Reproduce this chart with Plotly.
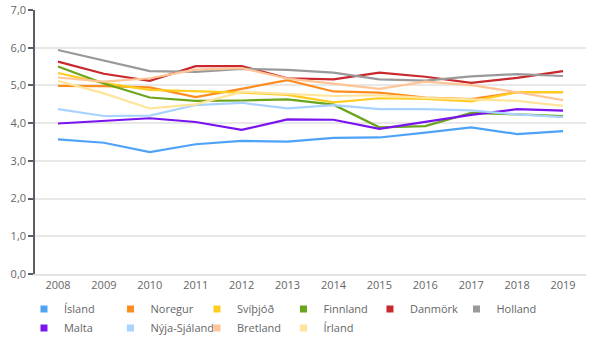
import plotly.graph_objects as go

years = ["2008", "2009", "2010", "2011", "2012", "2013", "2014", "2015", "2016", "2017", "2018", "2019"]

island = [3.57, 3.48, 3.23, 3.44, 3.53, 3.51, 3.61, 3.62, 3.75, 3.89, 3.71, 3.79]
noregur = [4.99, 4.98, 4.95, 4.69, 4.91, 5.14, 4.84, 4.81, 4.68, 4.64, 4.82, 4.82]
svithjod = [5.33, 5.06, 4.88, 4.85, 4.81, 4.75, 4.55, 4.66, 4.64, 4.58, 4.82, 4.82]
finnland = [5.50, 5.05, 4.68, 4.59, 4.60, 4.63, 4.49, 3.89, 3.92, 4.27, 4.23, 4.19]
danmork = [5.63, 5.31, 5.12, 5.51, 5.51, 5.19, 5.16, 5.34, 5.23, 5.07, 5.20, 5.38]
holland = [5.94, 5.66, 5.38, 5.36, 5.44, 5.41, 5.34, 5.16, 5.13, 5.24, 5.30, 5.25]
malta = [3.99, 4.06, 4.13, 4.03, 3.82, 4.10, 4.09, 3.85, 4.03, 4.22, 4.37, 4.33]
nyja_sjaland = [4.37, 4.19, 4.20, 4.48, 4.54, 4.39, 4.48, 4.37, 4.37, 4.34, 4.23, 4.16]
bretland = [5.21, 5.10, 5.19, 5.42, 5.46, 5.18, 5.05, 4.91, 5.10, 5.01, 4.82, 4.61]
irland = [5.12, 4.79, 4.39, 4.50, 4.83, 4.77, 4.72, 4.74, 4.67, 4.63, 4.59, 4.46]

names = ["Ísland", "Noregur", "Svíþjóð", "Finnland", "Danmörk", "Holland",
         "Malta", "Nýja-Sjáland", "Bretland", "Írland"]
series = [island, noregur, svithjod, finnland, danmork, holland,
          malta, nyja_sjaland, bretland, irland]
colors = ["#4FA3F7", "#FF8C1F", "#FFCC1F", "#6AA51C", "#C9282D", "#999999",
          "#7A14EE", "#A9D3FF", "#FFC596", "#FFE49A"]

fig = go.Figure()
for name, vals, col in zip(names, series, colors):
    fig.add_trace(go.Scatter(x=years, y=vals, mode="lines", name=name,
                             line=dict(color=col, width=2.2), showlegend=False,
                             legendgroup=name))
for name, col in zip(names, colors):
    fig.add_trace(go.Scatter(x=[None], y=[None], mode="markers", name=name,
                             marker=dict(color=col, symbol="square", size=7),
                             showlegend=True, legendgroup=name))

fig.update_layout(
    width=600, height=338,
    margin=dict(l=35, r=14, t=10, b=64, autoexpand=False),
    paper_bgcolor="white", plot_bgcolor="white",
    font=dict(family="Open Sans", size=11, color="#666666"),
    separators=",.",
    showlegend=True,
    legend=dict(orientation="h", x=-0.02, xanchor="left", y=-0.078, yanchor="top",
                entrywidth=41.5, entrywidthmode="pixels",
                itemwidth=30, font=dict(size=11, color="#666666"),
                bgcolor="rgba(0,0,0,0)", tracegroupgap=0),
    xaxis=dict(type="category", range=[-0.5, 11.5], showgrid=False,
               showline=True, linecolor="#e3e3e3", linewidth=1.5,
               ticks="", tickfont=dict(size=11, color="#666666"), zeroline=False),
    yaxis=dict(range=[0, 7], dtick=1, tickformat=".1f", showgrid=True,
               gridcolor="#e8e8e8", gridwidth=1.5, showline=True,
               linecolor="#5a5f66", linewidth=1.5, ticks="outside", ticklen=5,
               tickcolor="#5a5f66", tickwidth=1.5, zeroline=False,
               tickfont=dict(size=11, color="#666666")),
)

fig.write_html("out.html")
